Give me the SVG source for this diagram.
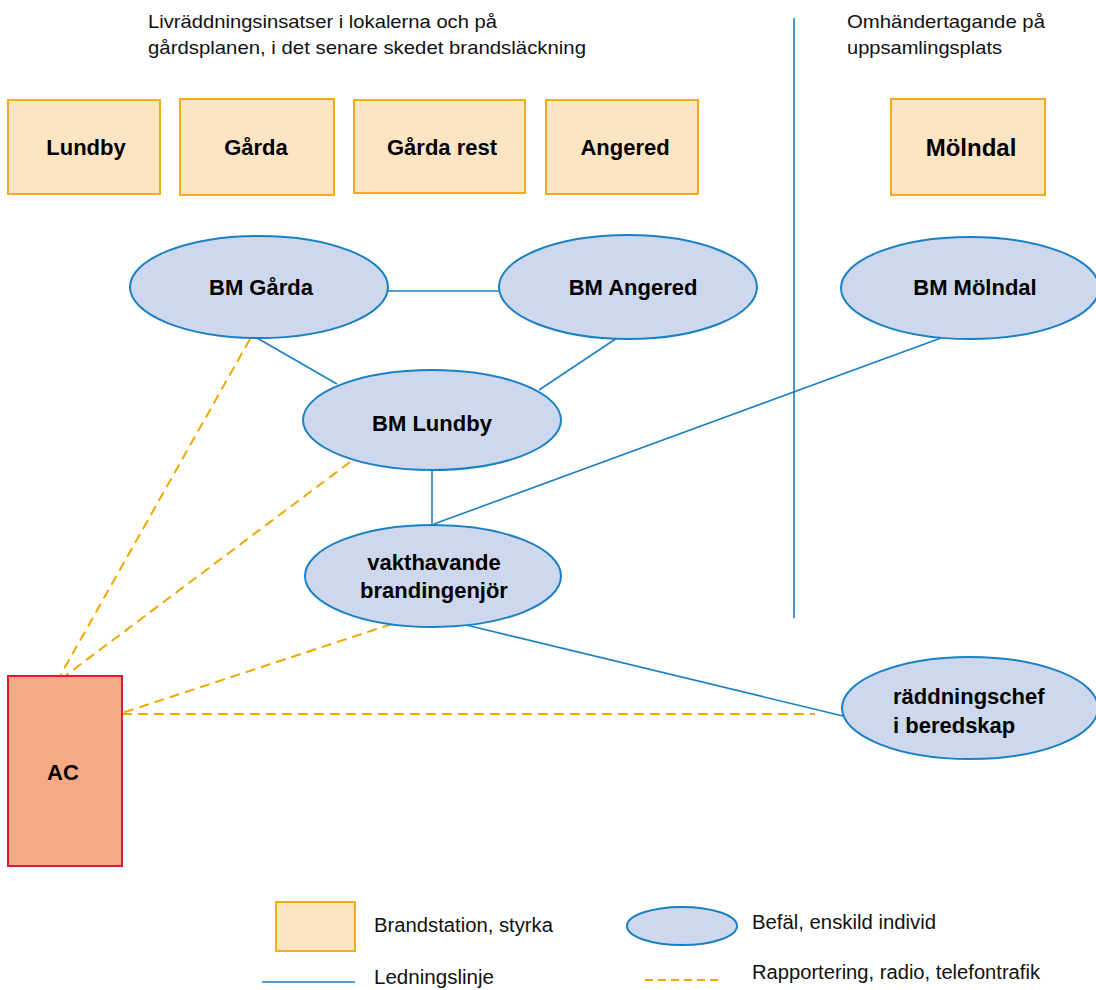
<svg xmlns="http://www.w3.org/2000/svg" width="1096" height="990" viewBox="0 0 1096 990">
  <style>
    .station { fill: #fde5c4; stroke: #f2ab1b; stroke-width: 2; }
    .officer { fill: #cdd8ee; stroke: #1a80c4; stroke-width: 2; }
    .ac { fill: #f5aa85; stroke: #e2173a; stroke-width: 2; }
    .lead { stroke: #1a80c4; stroke-width: 1.6; fill: none; }
    .report { stroke: #f0a800; stroke-width: 2; fill: none; stroke-dasharray: 10 6; }
    .lbl { font-family: "Liberation Sans", Arial, sans-serif; font-weight: bold; font-size: 22px; fill: #000; text-anchor: middle; }
    .note { font-family: "Liberation Sans", Arial, sans-serif; font-size: 19px; fill: #111; }
    .legend { font-family: "Liberation Sans", Arial, sans-serif; font-size: 20px; fill: #111; }
  </style>

  <!-- Section headings -->
  <g id="heading-left">
    <text class="note" x="148" y="28" textLength="349" lengthAdjust="spacingAndGlyphs">Livräddningsinsatser i lokalerna och på</text>
    <text class="note" x="148" y="54" textLength="438" lengthAdjust="spacingAndGlyphs">gårdsplanen, i det senare skedet brandsläckning</text>
  </g>
  <g id="heading-right">
    <text class="note" x="847" y="28" textLength="198" lengthAdjust="spacingAndGlyphs">Omhändertagande på</text>
    <text class="note" x="847" y="54" textLength="155" lengthAdjust="spacingAndGlyphs">uppsamlingsplats</text>
  </g>

  <!-- Connectors -->
  <g id="connectors">
    <line class="lead" x1="794" y1="18" x2="794" y2="618"/>
    <line class="lead" x1="388" y1="291" x2="500" y2="291"/>
    <line class="lead" x1="257" y1="338" x2="337" y2="384"/>
    <line class="lead" x1="620" y1="336" x2="539" y2="390"/>
    <line class="lead" x1="432" y1="470" x2="432" y2="524"/>
    <line class="lead" x1="941" y1="338" x2="434" y2="524"/>
    <line class="lead" x1="466" y1="625" x2="843" y2="716"/>
    <line class="report" x1="250" y1="339" x2="60" y2="676"/>
    <line class="report" x1="350" y1="462" x2="65" y2="676"/>
    <line class="report" x1="392" y1="624" x2="122" y2="713"/>
    <line class="report" x1="122" y1="714" x2="815" y2="714"/>
  </g>

  <!-- Fire stations -->
  <g id="station-lundby">
    <rect class="station" x="8" y="100" width="152" height="94"/>
    <text class="lbl" x="86" y="155">Lundby</text>
  </g>
  <g id="station-garda">
    <rect class="station" x="180" y="99" width="154" height="96"/>
    <text class="lbl" x="256" y="155">Gårda</text>
  </g>
  <g id="station-garda-rest">
    <rect class="station" x="354" y="100" width="171" height="93"/>
    <text class="lbl" x="442" y="155">Gårda rest</text>
  </g>
  <g id="station-angered">
    <rect class="station" x="546" y="100" width="152" height="94"/>
    <text class="lbl" x="625" y="155">Angered</text>
  </g>
  <g id="station-molndal">
    <rect class="station" x="891" y="99" width="154" height="96"/>
    <text class="lbl" x="971" y="156" style="font-size:24px">Mölndal</text>
  </g>

  <!-- Officers -->
  <g id="bm-garda">
    <ellipse class="officer" cx="259" cy="287" rx="129" ry="51"/>
    <text class="lbl" x="261" y="295">BM Gårda</text>
  </g>
  <g id="bm-angered">
    <ellipse class="officer" cx="628" cy="287" rx="129" ry="52"/>
    <text class="lbl" x="633" y="295">BM Angered</text>
  </g>
  <g id="bm-molndal">
    <ellipse class="officer" cx="970" cy="288" rx="129" ry="51"/>
    <text class="lbl" x="975" y="295">BM Mölndal</text>
  </g>
  <g id="bm-lundby">
    <ellipse class="officer" cx="432" cy="420" rx="129" ry="50"/>
    <text class="lbl" x="432" y="431">BM Lundby</text>
  </g>
  <g id="vakthavande">
    <ellipse class="officer" cx="433" cy="576" rx="128" ry="51"/>
    <text class="lbl" x="434" y="570">vakthavande</text>
    <text class="lbl" x="434" y="598">brandingenjör</text>
  </g>
  <g id="raddningschef">
    <ellipse class="officer" cx="970" cy="708" rx="128" ry="51"/>
    <text class="lbl" x="893" y="704" style="text-anchor:start">räddningschef</text>
    <text class="lbl" x="893" y="733" style="text-anchor:start">i beredskap</text>
  </g>

  <!-- Incident commander -->
  <g id="ac">
    <rect class="ac" x="8" y="676" width="114" height="190"/>
    <text class="lbl" x="63" y="780">AC</text>
  </g>

  <!-- Legend -->
  <g id="legend">
    <rect class="station" x="276" y="902" width="79" height="49"/>
    <text class="legend" x="374" y="932" textLength="179" lengthAdjust="spacingAndGlyphs">Brandstation, styrka</text>
    <ellipse class="officer" cx="682" cy="926" rx="55" ry="19"/>
    <text class="legend" x="752" y="929" textLength="184" lengthAdjust="spacingAndGlyphs">Befäl, enskild individ</text>
    <line class="lead" x1="262" y1="982" x2="355" y2="982"/>
    <text class="legend" x="374" y="984" textLength="120" lengthAdjust="spacingAndGlyphs">Ledningslinje</text>
    <line class="report" x1="645" y1="980" x2="722" y2="980" style="stroke-dasharray:8 5"/>
    <text class="legend" x="752" y="979" textLength="288" lengthAdjust="spacingAndGlyphs">Rapportering, radio, telefontrafik</text>
  </g>
</svg>
